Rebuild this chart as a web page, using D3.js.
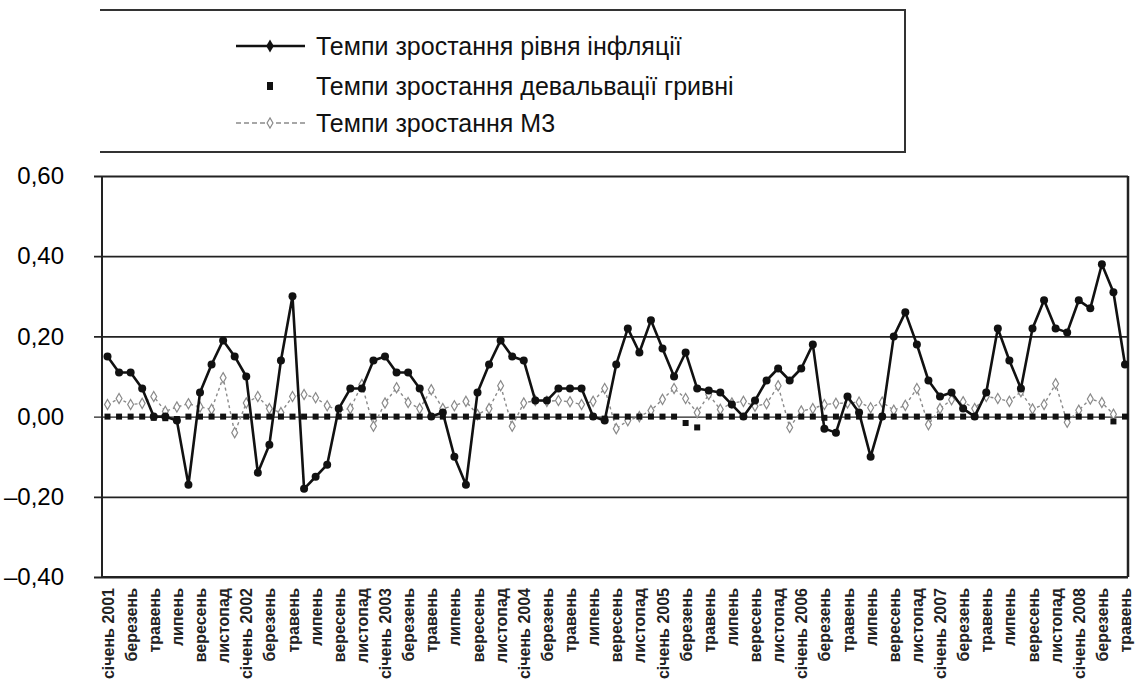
<!DOCTYPE html>
<html lang="uk">
<head>
    <meta charset="UTF-8">
    <title>Темпи зростання</title>
    <style>
        body {
            margin: 0;
            padding: 0;
            background-color: #fff;
            font-family: "Liberation Sans", Arial, sans-serif;
        }
    </style>
</head>
<body>
<svg width="1136" height="689" id="chart"></svg>

<script src="https://d3js.org/d3.v7.min.js"></script>
<script>
    // month labels shown under the axis (every second month)
    const tickLabels = [
        "січень 2001", "березень", "травень", "липень", "вересень", "листопад",
        "січень 2002", "березень", "травень", "липень", "вересень", "листопад",
        "січень 2003", "березень", "травень", "липень", "вересень", "листопад",
        "січень 2004", "березень", "травень", "липень", "вересень", "листопад",
        "січень 2005", "березень", "травень", "липень", "вересень", "листопад",
        "січень 2006", "березень", "травень", "липень", "вересень", "листопад",
        "січень 2007", "березень", "травень", "липень", "вересень", "листопад",
        "січень 2008", "березень", "травень"
    ];

    // Jan 2001 .. May 2008, one value per month
    const inflation = [
        0.15, 0.11, 0.11, 0.07, 0.00, 0.00, -0.01, -0.17, 0.06, 0.13, 0.19, 0.15,
        0.10, -0.14, -0.07, 0.14, 0.30, -0.18, -0.15, -0.12, 0.02, 0.07, 0.07, 0.14,
        0.15, 0.11, 0.11, 0.07, 0.00, 0.01, -0.10, -0.17, 0.06, 0.13, 0.19, 0.15,
        0.14, 0.04, 0.04, 0.07, 0.07, 0.07, 0.00, -0.01, 0.13, 0.22, 0.16, 0.24,
        0.17, 0.10, 0.16, 0.07, 0.065, 0.06, 0.03, 0.00, 0.04, 0.09, 0.12, 0.09,
        0.12, 0.18, -0.03, -0.04, 0.05, 0.01, -0.10, 0.00, 0.20, 0.26, 0.18, 0.09,
        0.05, 0.06, 0.02, 0.00, 0.06, 0.22, 0.14, 0.07, 0.22, 0.29, 0.22, 0.21,
        0.29, 0.27, 0.38, 0.31, 0.13
    ];

    const devaluation = [
        0.00, 0.00, 0.00, 0.00, -0.003, -0.004, -0.006, 0.00, 0.00, 0.00, 0.00, 0.00,
        0.00, 0.00, 0.00, 0.00, 0.00, 0.00, 0.00, 0.00, 0.00, 0.00, 0.00, 0.00,
        0.00, 0.00, 0.00, 0.00, 0.00, 0.00, 0.00, 0.00, 0.00, 0.00, 0.00, 0.00,
        0.00, 0.00, 0.00, 0.00, 0.00, 0.00, 0.00, -0.005, 0.00, 0.00, 0.00, 0.00,
        0.00, 0.00, -0.016, -0.027, 0.00, 0.00, 0.00, 0.00, 0.00, 0.00, 0.00, 0.00,
        0.00, 0.00, -0.003, 0.00, 0.00, 0.00, 0.00, 0.00, 0.00, 0.00, 0.00, 0.00,
        0.00, 0.00, 0.00, 0.00, 0.00, 0.00, 0.00, 0.00, 0.00, 0.00, 0.00, 0.00,
        0.00, 0.00, 0.00, -0.012, 0.00
    ];

    const m3 = [
        0.03, 0.045, 0.03, 0.033, 0.05, 0.013, 0.024, 0.032, 0.024, 0.018, 0.097, -0.04,
        0.034, 0.05, 0.02, 0.01, 0.05, 0.055, 0.047, 0.027, 0.015, 0.02, 0.08, -0.024,
        0.034, 0.072, 0.035, 0.02, 0.067, 0.02, 0.027, 0.038, 0.005, 0.02, 0.077, -0.024,
        0.034, 0.04, 0.038, 0.04, 0.037, 0.03, 0.038, 0.07, -0.03, -0.01, 0.00, 0.015,
        0.043, 0.07, 0.045, 0.01, 0.055, 0.018, 0.034, 0.038, 0.026, 0.032, 0.077, -0.027,
        0.014, 0.02, 0.03, 0.033, 0.034, 0.036, 0.022, 0.036, 0.016, 0.028, 0.07, -0.02,
        0.02, 0.042, 0.037, 0.02, 0.05, 0.045, 0.038, 0.062, 0.019, 0.03, 0.082, -0.014,
        0.016, 0.044, 0.035, 0.006, null
    ];

    const yTicks = [-0.4, -0.2, 0, 0.2, 0.4, 0.6];

    const legendItems = [
        "Темпи зростання рівня інфляції",
        "Темпи зростання девальвації гривні",
        "Темпи зростання М3"
    ];

    const svg = d3.select("#chart");

    const plot = { left: 102, right: 1128, top: 176, bottom: 577 };
    const months = d3.range(inflation.length);

    const x = d3.scalePoint()
        .domain(months)
        .range([107.5, 1125]);

    const y = d3.scaleLinear()
        .domain([-0.4, 0.6])
        .range([plot.bottom, plot.top]);

    const fmt = v => (v < 0 ? "–" : "") + Math.abs(v).toFixed(2).replace(".", ",");

    // gridlines + y axis
    const yAxis = d3.axisLeft(y)
        .tickValues(yTicks)
        .tickSize(-(plot.right - plot.left))
        .tickSizeOuter(0)
        .tickPadding(38)
        .tickFormat(fmt);

    const gy = svg.append("g")
        .attr("transform", `translate(${plot.left},0)`)
        .call(yAxis);
    gy.select(".domain").remove();
    gy.selectAll(".tick line")
        .attr("x1", -8)
        .attr("stroke", "#222")
        .attr("stroke-width", d => d === 0 ? 1.2 : 1.8);
    gy.selectAll(".tick text")
        .attr("font-size", 24)
        .attr("fill", "#000")
        .attr("font-family", "Liberation Sans, Arial, sans-serif");

    // frame
    svg.append("line")
        .attr("x1", plot.left).attr("x2", plot.left)
        .attr("y1", plot.top).attr("y2", plot.bottom)
        .attr("stroke", "#222").attr("stroke-width", 2);
    svg.append("line")
        .attr("x1", plot.right).attr("x2", plot.right)
        .attr("y1", plot.top).attr("y2", plot.bottom)
        .attr("stroke", "#222").attr("stroke-width", 2.5);

    // x labels (every second month)
    const gx = svg.append("g")
        .attr("transform", `translate(0,${plot.bottom})`)
        .call(d3.axisBottom(x)
            .tickValues(months.filter(i => i % 2 === 0))
            .tickSize(0)
            .tickFormat(i => tickLabels[i / 2]));
    gx.select(".domain")
        .attr("d", `M${plot.left},0H${plot.right}`)
        .attr("stroke", "#222")
        .attr("stroke-width", 2);
    gx.selectAll(".tick text")
        .attr("transform", "rotate(-90)")
        .attr("text-anchor", "end")
        .attr("x", -11)
        .attr("y", 0)
        .attr("dy", "0.35em")
        .attr("font-size", 16)
        .attr("font-weight", "bold")
        .attr("fill", "#222")
        .attr("font-family", "Liberation Sans, Arial, sans-serif");

    // M3 series
    const m3Line = d3.line()
        .defined(d => d !== null)
        .x((d, i) => x(i))
        .y(d => y(d));

    svg.append("path")
        .datum(m3)
        .attr("fill", "none")
        .attr("stroke", "#8a8a8a")
        .attr("stroke-width", 1.4)
        .attr("stroke-dasharray", "3,3")
        .attr("d", m3Line);

    const diamond = d3.symbol().type(d3.symbolDiamond).size(30);

    svg.append("g")
        .selectAll("path")
        .data(m3.map((v, i) => ({ v, i })).filter(d => d.v !== null))
        .join("path")
        .attr("d", diamond)
        .attr("transform", d => `translate(${x(d.i)},${y(d.v)})`)
        .attr("fill", "#fff")
        .attr("stroke", "#8a8a8a")
        .attr("stroke-width", 1.2);

    // devaluation squares
    svg.append("g")
        .selectAll("rect")
        .data(devaluation)
        .join("rect")
        .attr("x", (d, i) => x(i) - 3)
        .attr("y", d => y(d) - 3)
        .attr("width", 6)
        .attr("height", 6)
        .attr("fill", "#111");

    // inflation line
    const infLine = d3.line()
        .x((d, i) => x(i))
        .y(d => y(d));

    svg.append("path")
        .datum(inflation)
        .attr("fill", "none")
        .attr("stroke", "#111")
        .attr("stroke-width", 2.6)
        .attr("stroke-linejoin", "round")
        .attr("d", infLine);

    svg.append("g")
        .selectAll("circle")
        .data(inflation)
        .join("circle")
        .attr("cx", (d, i) => x(i))
        .attr("cy", d => y(d))
        .attr("r", 4)
        .attr("fill", "#111");

    // legend
    const legend = svg.append("g");
    legend.append("path")
        .attr("d", "M100,10H905V152H100")
        .attr("fill", "none")
        .attr("stroke", "#333")
        .attr("stroke-width", 2);

    const legendY = [46, 86, 123];

    legend.selectAll("text")
        .data(legendItems)
        .join("text")
        .attr("x", 316)
        .attr("y", (d, i) => legendY[i])
        .attr("dy", "0.35em")
        .attr("font-size", 25)
        .attr("fill", "#111")
        .attr("font-family", "Liberation Sans, Arial, sans-serif")
        .text(d => d);

    legend.append("line")
        .attr("x1", 236).attr("x2", 305)
        .attr("y1", legendY[0]).attr("y2", legendY[0])
        .attr("stroke", "#111").attr("stroke-width", 2.6);
    legend.append("path")
        .attr("d", d3.symbol().type(d3.symbolDiamond).size(50))
        .attr("transform", `translate(270,${legendY[0]})`)
        .attr("fill", "#111");

    legend.append("rect")
        .attr("x", 267).attr("y", legendY[1] - 4)
        .attr("width", 6).attr("height", 8)
        .attr("fill", "#111");

    legend.append("line")
        .attr("x1", 236).attr("x2", 305)
        .attr("y1", legendY[2]).attr("y2", legendY[2])
        .attr("stroke", "#8a8a8a").attr("stroke-width", 1.4)
        .attr("stroke-dasharray", "5,3");
    legend.append("path")
        .attr("d", d3.symbol().type(d3.symbolDiamond).size(30))
        .attr("transform", `translate(270,${legendY[2]})`)
        .attr("fill", "#fff")
        .attr("stroke", "#8a8a8a")
        .attr("stroke-width", 1.2);
</script>

</body>
</html>
